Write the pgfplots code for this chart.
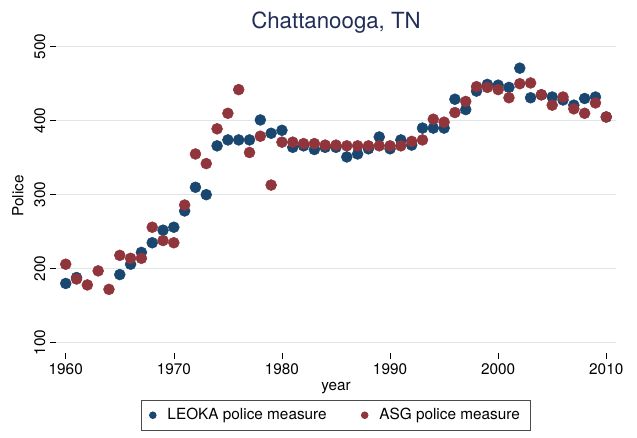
\documentclass[border=0pt]{standalone}
\usepackage{pgfplots}
\pgfplotsset{compat=1.18}
\usepackage{fontspec}
\setmainfont{TeX Gyre Heros}
\definecolor{stnavy}{RGB}{26,71,111}
\definecolor{stmaroon}{RGB}{144,53,59}
\definecolor{sttitle}{RGB}{32,45,88}
\definecolor{stgrid}{RGB}{222,230,232}

\begin{document}
\begin{tikzpicture}[x=1pt,y=1pt]
\path[use as bounding box] (-42,-63) rectangle (435.75,264.75);
\begin{axis}[
    at={(0,0)}, anchor=south west,
    scale only axis, width=420pt, height=235.5pt,
    xmin=1959.1, xmax=2010.9,
    ymin=86, ymax=510.4,
    axis x line*=bottom, axis y line*=left,
    axis line style={draw=none},
    xtick={1960,1970,...,2010},
    ytick={100,200,...,500},
    tick align=outside,
    major tick length=4.5pt,
    tick style={black, line width=0.5pt},
    ymajorgrids,
    grid style={stgrid, line width=0.9pt},
    /pgf/number format/assume math mode=true,
    /pgf/number format/1000 sep={},
    ticklabel style={font=\fontsize{11.5}{13}\selectfont},
    yticklabel style={rotate=90, anchor=south},
    xlabel={year},
    ylabel={Police},
    label style={font=\fontsize{11.5}{13}\selectfont},
    xlabel style={yshift=1.5pt},
    ylabel style={yshift=1pt},
    title={Chattanooga, TN},
    title style={font=\fontsize{16.7}{19}\selectfont, color=sttitle, yshift=-5pt},
    legend style={at={(0.5,-0.15)}, anchor=north, legend columns=2,
        draw=black!70, line width=0.6pt,
        font=\fontsize{11.5}{13}\selectfont,
        inner xsep=6pt, inner ysep=4pt,
        /tikz/every even column/.append style={column sep=24pt}},
    legend cell align=left,
    legend image code/.code={\path[draw=none, fill=none] (0pt,0pt) -- (10.5pt,0pt);
        \draw[mark size=2.5pt] plot[only marks] coordinates {(1.5pt,0)};},
]
\addplot[only marks, mark=*, mark size=4.1pt, color=stnavy, mark options={fill=stnavy, draw=stnavy}] coordinates {
    (1960,180) (1961,188) (1965,192) (1966,206) (1967,222) (1968,235) (1969,252)
    (1970,256) (1971,278) (1972,310) (1973,300) (1974,366) (1975,374) (1976,374)
    (1977,374) (1978,401) (1979,383) (1980,387) (1981,364) (1982,366) (1983,361)
    (1984,364) (1985,364) (1986,351) (1987,355) (1988,362) (1989,378) (1990,362)
    (1991,374) (1992,367) (1993,390) (1994,390) (1995,390) (1996,429) (1997,415)
    (1998,440) (1999,449) (2000,448) (2001,445) (2002,471) (2003,431) (2004,435)
    (2005,432) (2006,428) (2007,421) (2008,430) (2009,432) (2010,405)
};
\addlegendentry{LEOKA police measure}
\addplot[only marks, mark=*, mark size=4.1pt, color=stmaroon, mark options={fill=stmaroon, draw=stmaroon}] coordinates {
    (1960,206) (1961,186) (1962,178) (1963,197) (1964,172) (1965,218) (1966,214)
    (1967,214) (1968,256) (1969,238) (1970,235) (1971,286) (1972,355) (1973,342)
    (1974,389) (1975,410) (1976,442) (1977,357) (1978,379) (1979,313) (1980,371)
    (1981,371) (1982,369) (1983,369) (1984,367) (1985,367) (1986,366) (1987,366)
    (1988,366) (1989,366) (1990,366) (1991,366) (1992,372) (1993,374) (1994,402)
    (1995,398) (1996,411) (1997,426) (1998,446) (1999,445) (2000,442) (2001,431)
    (2002,450) (2003,451) (2004,435) (2005,421) (2006,432) (2007,416) (2008,410)
    (2009,424) (2010,405)
};
\addlegendentry{ASG police measure}
\end{axis}
\end{tikzpicture}
\end{document}
